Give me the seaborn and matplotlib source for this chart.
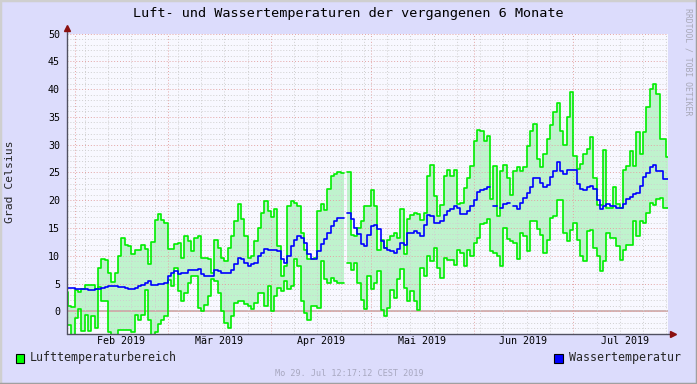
import numpy as np
import pandas as pd
import matplotlib
matplotlib.use('Agg')
import matplotlib.pyplot as plt
import matplotlib.dates as mdates
from matplotlib.patches import Rectangle
from matplotlib.lines import Line2D
import seaborn as sns

nan = np.nan

# daily values starting 2019-01-29
first_day = '2019-01-29'

luft_max = [3.5,
    1.0, 0.8, 3.8, 3.5, 4.1, 4.8, 4.8, 4.8, 4.1, 7.9,
    9.4, 9.2, 6.9, 5.3, 6.9, 9.9, 13.2, 12.0, 11.8, 10.4,
    11.0, 11.0, 12.0, 11.3, 8.6, 12.5, 16.4, 17.6, 16.4, 15.9,
    11.2, 11.2, 12.1, 12.3, 9.7, 13.5, 12.6, 10.9, 13.2, 13.6,
    9.6, 9.6, 9.4, 7.0, 12.9, 11.4, 9.7, 9.1, 11.4, 13.5,
    16.3, 19.3, 16.6, 13.6, 9.7, 9.9, 12.7, 15.0, 17.7, 19.8,
    18.1, 17.0, 18.4, 11.8, 6.3, 8.2, 19.0, 19.9, 19.6, 18.9,
    14.2, 11.0, 9.4, 9.5, 9.6, 18.0, 19.3, 18.2, 22.0, 24.3,
    24.7, 25.0, 24.9, nan, 25.1, 13.8, 13.5, 15.0, 16.3, 19.0,
    19.0, 21.9, 19.0, 11.1, 12.9, 11.4, 12.9, 13.6, 14.2, 13.2,
    18.4, 10.3, 16.6, 17.4, 17.8, 17.5, 16.5, 17.7, 24.4, 26.3,
    20.8, 17.2, 19.2, 24.4, 25.4, 24.3, 25.4, 19.4, 19.5, 22.2,
    24.0, 26.2, 30.7, 32.7, 32.4, 30.7, 31.6, 20.2, 26.2, 17.2,
    25.2, 26.4, 24.0, 21.0, 25.3, 25.9, 25.3, 26.0, 29.7, 32.4,
    33.7, 27.4, 26.0, 28.4, 31.0, 33.6, 35.8, 37.5, 32.4, 30.0,
    35.0, 39.5, 28.0, 25.7, 26.6, 28.3, 29.3, 31.3, 24.0, 19.2,
    19.2, 29.0, 18.6, 18.6, 22.3, 19.3, 18.6, 25.4, 26.2, 28.9,
    26.2, 32.2, 28.4, 32.3, 36.8, 40.0, 41.0, 39.2, 31.0, 31.0,
    27.7]

luft_min = [-2.4,
    -2.4, -5.0, -1.2, 0.4, -3.5, -0.6, -3.5, -0.9, -2.9, 4.4,
    1.8, 1.8, -3.7, -4.5, -4.5, -3.3, -3.3, -3.3, -3.3, -3.7,
    -0.7, -1.5, -0.7, 3.8, -1.5, -4.5, -3.7, -2.2, -1.5, -0.9,
    5.7, 4.5, 7.8, 3.7, 1.8, 3.3, 5.2, 6.4, 6.4, 0.6,
    0.1, 1.2, 2.7, 5.8, 5.5, 3.4, 0.0, -2.0, -3.0, -0.9,
    1.6, 1.9, 1.8, 1.3, 1.0, 0.4, 1.5, 3.4, 3.4, 1.0,
    4.5, 0.0, 2.7, 4.2, 3.6, 5.5, 4.0, 4.5, 9.4, 8.1,
    1.8, -0.3, -1.5, 0.9, 0.9, 0.6, 9.0, 5.8, 5.1, 6.0,
    5.4, 5.1, 5.1, nan, 8.7, 7.4, 8.8, 5.1, 2.1, 0.4,
    6.3, 4.0, 5.2, 7.2, 0.3, -0.8, 0.6, 3.9, 2.4, 5.8,
    7.6, 4.2, 1.9, 3.6, 1.9, 0.3, 7.8, 6.4, 9.9, 9.0,
    11.4, 7.8, 6.0, 9.6, 9.3, 9.3, 8.4, 11.1, 10.5, 8.2,
    11.0, 10.0, 12.3, 13.2, 15.7, 15.9, 16.6, 10.8, 10.6, 9.9,
    8.2, 15.1, 13.0, 12.6, 12.3, 9.4, 14.1, 13.5, 10.9, 16.3,
    16.2, 14.8, 13.7, 10.6, 12.9, 16.8, 17.1, 20.1, 20.1, 14.1,
    12.6, 14.7, 15.9, 12.9, 9.9, 9.1, 14.5, 14.7, 11.4, 9.9,
    7.3, 9.0, 14.1, 13.3, 13.2, 11.7, 9.3, 11.1, 12.0, 12.0,
    16.3, 13.6, 16.2, 15.9, 17.7, 19.5, 19.2, 20.2, 20.4, 18.6,
    18.6]

wasser = [4.2,
    4.2, 4.2, 4.1, 4.1, 4.0, 4.0, 3.8, 3.8, 4.0, 4.1,
    4.3, 4.4, 4.5, 4.5, 4.5, 4.4, 4.4, 4.2, 4.1, 4.1,
    4.3, 4.5, 4.8, 5.2, 5.5, 4.8, 4.8, 5.0, 5.0, 5.2,
    6.3, 7.0, 7.3, 6.7, 7.0, 7.0, 7.5, 7.5, 7.5, 7.6,
    6.7, 6.4, 6.4, 6.3, 7.5, 7.2, 6.9, 6.9, 6.9, 7.5,
    8.5, 9.7, 9.4, 8.7, 8.2, 8.5, 8.8, 9.9, 10.5, 11.2,
    11.1, 11.1, 11.1, 10.8, 9.4, 8.7, 9.9, 11.8, 12.9, 13.5,
    13.3, 12.4, 10.3, 9.4, 9.4, 10.8, 12.1, 13.0, 14.2, 15.4,
    16.2, 16.8, 16.8, nan, 17.8, 16.6, 15.0, 14.0, 12.1, 11.8,
    13.8, 15.4, 15.6, 14.8, 12.6, 11.4, 11.1, 10.9, 10.6, 11.2,
    12.3, 12.0, 14.1, 14.1, 14.4, 14.2, 13.6, 15.6, 17.4, 17.1,
    16.0, 15.9, 16.2, 17.4, 18.0, 18.4, 18.9, 18.6, 17.5, 17.5,
    18.0, 18.9, 20.1, 21.4, 21.9, 22.0, 22.3, nan, 19.0, nan,
    18.7, 19.4, 19.6, nan, 19.0, 18.4, 19.6, 20.4, 21.3, 22.4,
    24.0, 24.0, 23.1, 22.3, 22.8, 24.1, 25.2, 26.8, 25.3, 24.7,
    25.4, 25.4, 25.4, 22.9, 22.0, 21.9, 22.3, 22.6, 22.0, 20.1,
    18.4, 19.0, 19.3, 19.0, 19.0, 18.7, 18.6, 19.3, 20.2, 20.5,
    21.1, 21.3, 22.6, 24.1, 24.9, 26.0, 26.3, 25.3, 25.3, 23.9,
    23.9]

month_labels = ['Feb 2019', 'Mär 2019', 'Apr 2019', 'Mai 2019', 'Jun 2019', 'Jul 2019']

title = 'Luft- und Wassertemperaturen der vergangenen 6 Monate'
ylabel = 'Grad Celsius'
legend_luft = 'Lufttemperaturbereich'
legend_wasser = 'Wassertemperatur'
timestamp = 'Mo 29. Jul 12:17:12 CEST 2019'
watermark = 'RRDTOOL / TOBI OETIKER'

# colours
bg_outer = '#dcdcfc'
bg_plot = '#f8f8ff'
green = '#00ee00'
green_fill = '#bff3cd'
blue = '#0000ff'

sns.set_style('white')
plt.rcParams['font.family'] = ['DejaVu Sans Mono']

# build step arrays (each day drawn from its start to next day's start)
days = pd.date_range(first_day, periods=len(luft_max), freq='D')
t0 = mdates.date2num(days)
x_step = np.column_stack([t0, t0 + 1]).ravel()


def stepify(v):
    return np.repeat(np.asarray(v, dtype=float), 2)


hi = stepify(luft_max)
lo = stepify(luft_min)
wa = stepify(wasser)


def segments(v):
    # unit id that changes at every gap so seaborn does not bridge them
    return np.cumsum(np.isnan(v))


df = pd.DataFrame({'t': x_step, 'max': hi, 'min': lo, 'wasser': wa,
                   'seg_max': segments(hi), 'seg_min': segments(lo), 'seg_w': segments(wa)})

W, H = 697, 384
fig = plt.figure(figsize=(W / 100, H / 100), dpi=100)
fig.patch.set_facecolor(bg_outer)

left, right, top, bottom = 66.5, 668.0, 33.5, 333.7
ax = fig.add_axes([left / W, 1 - bottom / H, (right - left) / W, (bottom - top) / H])
ax.set_facecolor(bg_plot)

valid = np.isfinite(hi) & np.isfinite(lo)
ax.fill_between(x_step, lo, hi, where=valid, color=green_fill, lw=0, zorder=1)
ax.axhline(0, color='#c8a8a8', lw=1.2, zorder=2)

for col, seg, c, lw in [('max', 'seg_max', green, 1.2), ('min', 'seg_min', green, 1.2),
                        ('wasser', 'seg_w', blue, 1.2)]:
    sns.lineplot(data=df, x='t', y=col, units=seg, estimator=None, sort=False,
                 color=c, lw=lw, ax=ax, zorder=4, legend=False)

start = pd.Timestamp('2019-01-29 12:17')
end = pd.Timestamp('2019-07-29 12:17')
ax.set_xlim(mdates.date2num(start), mdates.date2num(end))
ax.set_ylim(-4, 50)

ax.xaxis.set_major_locator(mdates.MonthLocator())
ax.xaxis.set_minor_locator(mdates.WeekdayLocator(byweekday=mdates.MO))
ax.xaxis.set_major_formatter(plt.NullFormatter())
ax.yaxis.set_major_locator(plt.MultipleLocator(5))
ax.yaxis.set_minor_locator(plt.MultipleLocator(1))

ax.set_axisbelow(False)
ax.grid(which='minor', color='#cfcfcf', ls=(0, (1, 2)), lw=0.7, zorder=2.5)
ax.grid(which='major', color='#e3a4a4', ls=(0, (1, 2)), lw=0.7, zorder=2.6)

ax.tick_params(axis='both', which='both', direction='out', color='#505050')
ax.tick_params(axis='both', which='major', length=2.2, width=0.8)
ax.tick_params(axis='both', which='minor', length=1.4, width=0.6)
ax.tick_params(axis='y', labelsize=7.2, pad=2.5, labelcolor='black')
ax.set_xlabel('')
ax.set_ylabel('')
for s in ax.spines.values():
    s.set_visible(False)

# axis lines with arrows
ax.plot([0, 0], [0, 1.015], transform=ax.transAxes, clip_on=False, color='#505060', lw=1.0, zorder=5)
ax.plot([0, 1.008], [0, 0], transform=ax.transAxes, clip_on=False, color='#505060', lw=1.0, zorder=5)
ax.plot([0], [1.017], marker='^', ms=4.5, color='#8b1010', transform=ax.transAxes, clip_on=False, zorder=6)
ax.plot([1.009], [0], marker='>', ms=4.5, color='#8b1010', transform=ax.transAxes, clip_on=False, zorder=6)

# month labels centred in each month
mstarts = pd.date_range('2019-02-01', periods=len(month_labels) + 1, freq='MS')
trans = matplotlib.transforms.blended_transform_factory(ax.transData, ax.transAxes)
for i, lab in enumerate(month_labels):
    mid = mstarts[i] + (mstarts[i + 1] - mstarts[i]) / 2
    ax.text(mdates.date2num(mid), -0.025, lab, transform=trans, ha='center', va='center',
            fontsize=7.2, color='black')

fig.text(348 / W, 1 - 14 / H, title, ha='center', va='center', fontsize=9.7, color='black')
fig.text(10 / W, 1 - 182 / H, ylabel, rotation=90, ha='center', va='center', fontsize=8.2)
fig.text(688 / W, 1 - 62 / H, watermark, rotation=270, ha='center', va='center',
         fontsize=5.9, color='#a8a8b8')
fig.text(349 / W, 1 - 373 / H, timestamp, ha='center', va='center', fontsize=6.1, color='#a8a8c0')

# legend
fig.add_artist(Rectangle((15.5 / W, 1 - 362.5 / H), 8.5 / W, 8.5 / H, transform=fig.transFigure,
                         fc='#00ff00', ec='black', lw=0.8))
fig.text(30 / W, 1 - 358 / H, legend_luft, ha='left', va='center', fontsize=8.4)
fig.add_artist(Rectangle((554 / W, 1 - 362.5 / H), 8.5 / W, 8.5 / H, transform=fig.transFigure,
                         fc='#0000ff', ec='black', lw=0.8))
fig.text(569 / W, 1 - 358 / H, legend_wasser, ha='left', va='center', fontsize=8.4)

# 3d frame around the image
fig.add_artist(Line2D([0, 0, 1], [0, 1, 1], transform=fig.transFigure, color='#cfcfcf', lw=2.5))
fig.add_artist(Line2D([0, 1, 1], [0, 0, 1], transform=fig.transFigure, color='#a0a0a0', lw=2.5))

fig.savefig('out.png', dpi=100, facecolor=fig.get_facecolor())
